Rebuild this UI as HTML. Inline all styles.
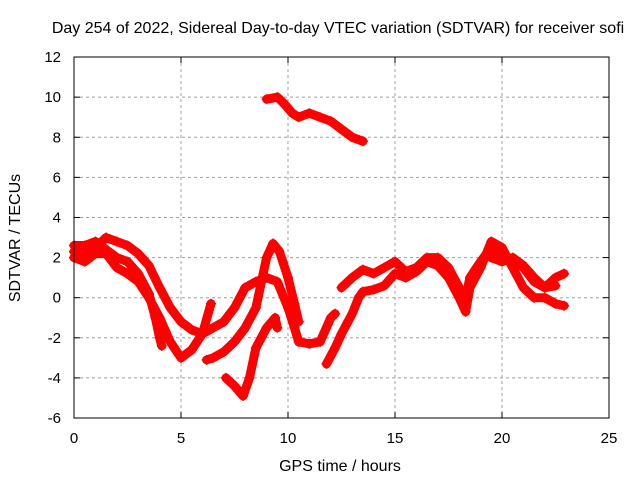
<!DOCTYPE html>
<html><head><meta charset="utf-8"><style>
body{margin:0;background:#fff}
svg{display:block;font-family:"Liberation Sans",sans-serif}
</style></head><body>
<svg id="chart" width="640" height="480">
<rect width="640" height="480" fill="#fff"/>
<text x="338" y="33" font-size="16" text-anchor="middle">Day 254 of 2022, Sidereal Day-to-day VTEC variation (SDTVAR) for receiver sofi</text>
<text x="340" y="471" font-size="16" text-anchor="middle">GPS time / hours</text>
<text transform="translate(20,238) rotate(-90)" font-size="16" text-anchor="middle">SDTVAR / TECUs</text>
<g id="grid"></g>
<g id="ticks"></g>
<g id="series"></g>
<rect x="74" y="57" width="535" height="361" fill="none" stroke="#000" stroke-width="1"/>
</svg>
<script>
const xTicks=[0,5,10,15,20,25];
const yTicks=[-6,-4,-2,0,2,4,6,8,10,12];
const track1=[[9.0,9.9],[9.5,10.0],[9.8,9.7],[10.2,9.2],[10.5,9.0],[11,9.2],[11.5,9.0],[12,8.8],[12.5,8.4],[13,8.0],[13.5,7.8]];
const track2=[[0,2.3],[0.5,2.2],[1,2.5],[1.5,3.0],[2,2.8],[2.5,2.6],[3,2.2],[3.5,1.6],[4,0.5],[4.5,-0.5],[5,-1.2],[5.5,-1.6],[6,-1.8],[6.5,-1.5],[7,-1.2],[7.5,-0.5],[8,0.5],[8.5,0.8],[9,1.0],[9.5,0.8],[10,-0.5],[10.3,-1.5],[10.5,-2.2],[11,-2.3],[11.5,-2.2],[12,-1.0],[12.2,-0.8]];
const track3=[[12.5,0.5],[13,1.0],[13.5,1.4],[14,1.2],[14.5,1.5],[15,1.8],[15.5,1.3],[16,1.5],[16.5,2.0],[17,2.0],[17.5,1.5],[18,0.5],[18.3,0.0],[18.5,1.0],[19,1.8],[19.5,2.5],[20,2.0],[20.5,1.8],[21,1.5],[21.5,0.8],[22,0.5],[22.5,1.0],[22.9,1.2]];
const track4=[[0,2.0],[0.5,1.8],[1,2.2],[1.5,2.2],[2,1.5],[2.5,1.2],[3,0.8],[3.5,0.0],[4,-1.0],[4.5,-2.2],[5,-3.0],[5.5,-2.6],[6,-1.8],[6.4,-0.3]];
const track5=[[0,2.6],[0.5,2.6],[1,2.8],[1.5,2.4],[2,2.0],[2.5,1.8],[3,1.2],[3.5,0.2],[3.8,-1.0],[4,-2.0],[4.1,-2.4]];
const track6=[[6.2,-3.1],[6.5,-3.0],[7,-2.7],[7.5,-2.2],[8,-1.5],[8.5,-0.5],[8.8,1.0],[9,2.0],[9.3,2.7],[9.6,2.3],[10,1.0],[10.3,-0.3],[10.5,-1.2]];
const track7=[[7.1,-4.0],[7.5,-4.4],[7.9,-4.9],[8.2,-4.0],[8.5,-2.5],[9,-1.5],[9.4,-1.0],[9.5,-1.5]];
const track8=[[11.8,-3.3],[12.2,-2.5],[12.5,-1.8],[13,-0.8],[13.3,0.0],[13.5,0.3],[14,0.4],[14.5,0.6],[15,1.2],[15.5,1.0],[16,1.3],[16.5,1.8],[17,1.6],[17.5,1.0],[18,0.0],[18.3,-0.7],[18.5,0.5],[19,1.5],[19.5,2.8],[20,2.5],[20.5,1.5],[21,0.5],[21.5,0.0],[22,0.0],[22.5,-0.3],[22.9,-0.4]];
const track9=[[19.5,2.0],[20,1.8],[20.5,2.0],[21,1.6],[21.5,1.0],[22,0.5],[22.5,0.6]];
const tracks=[track1,track2,track3,track4,track5,track6,track7,track8,track9];
const NS='http://www.w3.org/2000/svg';
const X=v=>74+v*(535/25);
const Y=v=>297.7-v*(361/18);
const grid=document.getElementById('grid'),ticks=document.getElementById('ticks'),ser=document.getElementById('series');
function mk(t,a,p){const e=document.createElementNS(NS,t);for(const k in a)e.setAttribute(k,a[k]);p.appendChild(e);return e;}
xTicks.forEach(t=>{
 if(t>0&&t<25){const g=mk('line',{x1:X(t),x2:X(t),y1:57,y2:418,stroke:'#a0a0a0','stroke-dasharray':'3,3'},grid);
 
 }
 mk('line',{x1:X(t),x2:X(t),y1:418,y2:412,stroke:'#000'},ticks);
 mk('line',{x1:X(t),x2:X(t),y1:57,y2:63,stroke:'#000'},ticks);
 const l=mk('text',{x:X(t),y:443,'font-size':15,'text-anchor':'middle'},ticks);l.textContent=t;
 
 
});
yTicks.forEach(t=>{
 if(t>-6&&t<12){const g=mk('line',{x1:74,x2:609,y1:Y(t),y2:Y(t),stroke:'#a0a0a0','stroke-dasharray':'3,3'},grid);
 
 }
 mk('line',{x1:74,x2:80,y1:Y(t),y2:Y(t),stroke:'#000'},ticks);
 mk('line',{x1:609,x2:603,y1:Y(t),y2:Y(t),stroke:'#000'},ticks);
 const l=mk('text',{x:61,y:Y(t)+5,'font-size':15,'text-anchor':'end'},ticks);l.textContent=t;
 
 
});
tracks.forEach((tr,i)=>{
 const g=mk('g',{},ser);
 
 
 mk('polyline',{points:tr.map(p=>X(p[0])+','+Y(p[1])).join(' '),fill:'none',stroke:'#f00','stroke-width':9,'stroke-linejoin':'round','stroke-linecap':'round'},g);
 tr.forEach(p=>{const x=X(p[0]),y=Y(p[1]);
  mk('path',{d:`M${x-5},${y}H${x+5}M${x},${y-5}V${y+5}`,stroke:'#f00','stroke-width':1.5},g);});
});
</script>
</body></html>
